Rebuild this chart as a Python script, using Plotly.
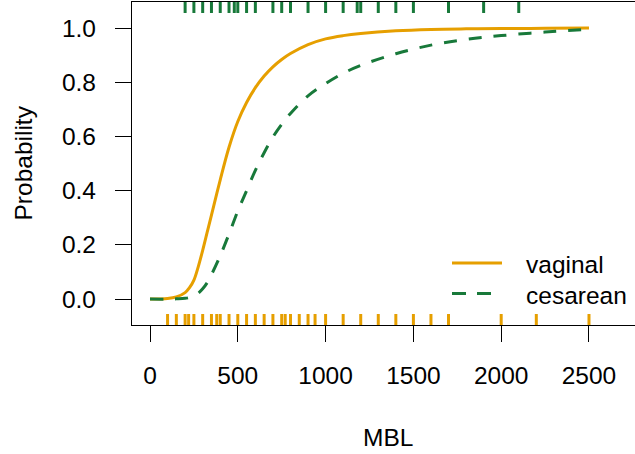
import plotly.graph_objects as go

# ---- data ----
mbl_grid = [0, 100, 150, 200, 225, 250, 275, 300, 325, 350, 400, 450, 500, 550, 600,
            650, 700, 750, 800, 900, 1000, 1100, 1200, 1400, 1600, 1800, 2000, 2250, 2500]
p_vaginal = [0.0, 0.002, 0.008, 0.024, 0.042, 0.07, 0.12, 0.18, 0.245, 0.31, 0.44,
             0.56, 0.655, 0.725, 0.78, 0.823, 0.857, 0.884, 0.906, 0.939, 0.96, 0.972,
             0.98, 0.99, 0.995, 0.997, 0.998, 0.999, 1.0]
p_cesarean = [0.0, 0.0, 0.001, 0.003, 0.006, 0.012, 0.022, 0.038, 0.06, 0.09, 0.16,
              0.24, 0.325, 0.40, 0.475, 0.54, 0.598, 0.645, 0.685, 0.75, 0.795, 0.833,
              0.862, 0.905, 0.937, 0.958, 0.972, 0.985, 0.995]

rug_vaginal = [100, 150, 200, 220, 250, 300, 350, 380, 400, 450, 500, 550, 600,
               650, 700, 750, 770, 800, 850, 900, 940, 1000, 1100, 1200, 1300,
               1400, 1500, 1600, 1700, 2000, 2200, 2500]
rug_cesarean = [200, 250, 300, 350, 400, 450, 480, 500, 550, 600, 700, 750, 800,
                900, 1000, 1100, 1180, 1200, 1300, 1400, 1500, 1700, 1900, 2100]

x_ticks = [0, 500, 1000, 1500, 2000, 2500]
y_ticks = [0.0, 0.2, 0.4, 0.6, 0.8, 1.0]
series_names = ["vaginal", "cesarean"]

ORANGE = "#E69F00"
GREEN = "#18793A"
FONT = "Liberation Sans, Arial, sans-serif"
FS = 24.5

W, H = 635, 454
L, R, T, B = 132, 0, 2, 129
pw, ph = W - L - R, H - T - B

def px_x(px):
    return (px - L) / pw

def px_y(py):
    return (H - B - py) / ph

fig = go.Figure()
fig.add_trace(go.Scatter(x=mbl_grid, y=p_vaginal, mode="lines",
                         line=dict(color=ORANGE, width=3, shape="spline", smoothing=1.0),
                         showlegend=False, name=series_names[0]))
fig.add_trace(go.Scatter(x=mbl_grid, y=p_cesarean, mode="lines",
                         line=dict(color=GREEN, width=3, dash="13px,12px",
                                   shape="spline", smoothing=1.0),
                         showlegend=False, name=series_names[1]))

shapes = []
rug_len = 0.034
for v in rug_vaginal:
    shapes.append(dict(type="line", xref="x", yref="y domain", x0=v, x1=v,
                       y0=0, y1=rug_len, line=dict(color=ORANGE, width=3)))
for v in rug_cesarean:
    shapes.append(dict(type="line", xref="x", yref="y domain", x0=v, x1=v,
                       y0=1 - rug_len, y1=1, line=dict(color=GREEN, width=3)))

# manual legend
leg_x0, leg_x1 = px_x(452), px_x(502)
shapes.append(dict(type="line", xref="paper", yref="paper", x0=leg_x0, x1=leg_x1,
                   y0=px_y(263), y1=px_y(263), line=dict(color=ORANGE, width=3)))
shapes.append(dict(type="line", xref="paper", yref="paper", x0=leg_x0, x1=leg_x1,
                   y0=px_y(293.5), y1=px_y(293.5),
                   line=dict(color=GREEN, width=3, dash="14px,11px")))

annotations = [
    dict(text=series_names[0], xref="paper", yref="paper", x=px_x(524), y=px_y(264),
         xanchor="left", yanchor="middle", showarrow=False,
         font=dict(family=FONT, size=FS, color="black")),
    dict(text=series_names[1], xref="paper", yref="paper", x=px_x(524), y=px_y(295),
         xanchor="left", yanchor="middle", showarrow=False,
         font=dict(family=FONT, size=FS, color="black")),
    dict(text="Probability", xref="paper", yref="paper", x=px_x(23), y=px_y(163.5),
         xanchor="center", yanchor="middle", textangle=-90, showarrow=False,
         font=dict(family=FONT, size=FS, color="black")),
    dict(text="MBL", xref="paper", yref="paper", x=px_x(388), y=px_y(437),
         xanchor="center", yanchor="middle", showarrow=False,
         font=dict(family=FONT, size=FS, color="black")),
]

fig.update_layout(
    width=W, height=H,
    margin=dict(l=L, r=R, t=T, b=B, pad=0),
    paper_bgcolor="white", plot_bgcolor="white",
    font=dict(family=FONT, size=FS, color="black"),
    shapes=shapes, annotations=annotations,
    showlegend=False,
)
fig.update_xaxes(range=[-102.5, 2762], tickvals=x_ticks, ticktext=[str(v) for v in x_ticks],
                 ticks="outside", ticklen=16, tickwidth=1.3, tickcolor="black",
                 showline=True, linecolor="black", linewidth=1.3, mirror=True,
                 showgrid=False, zeroline=False, ticklabelstandoff=12,
                 tickfont=dict(family=FONT, size=FS, color="black"))
fig.update_yaxes(range=[-0.0955, 1.096], tickvals=y_ticks,
                 ticktext=[f"{v:.1f}" for v in y_ticks],
                 ticks="outside", ticklen=16, tickwidth=1.3, tickcolor="black",
                 showline=True, linecolor="black", linewidth=1.3, mirror=False,
                 showgrid=False, zeroline=False, ticklabelstandoff=14,
                 tickfont=dict(family=FONT, size=FS, color="black"))

fig.write_html("out.html", config={"displayModeBar": False},
               post_script="document.body.style.margin='0';document.body.style.overflow='hidden';")
